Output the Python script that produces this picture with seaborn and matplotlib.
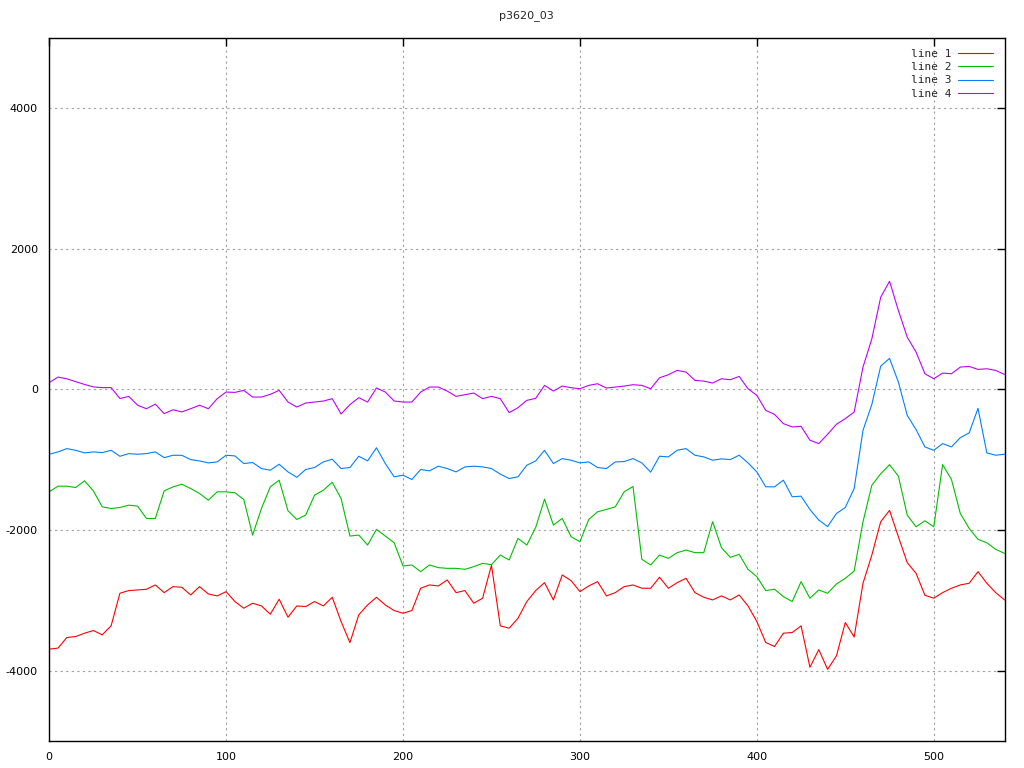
import matplotlib

matplotlib.use("Agg")

import matplotlib.pyplot as plt
import numpy as np
import pandas as pd
import seaborn as sns

# sample positions (every 5 units along x)
x_values = list(range(0, 545, 5))

line_1 = [
    -3693, -3678, -3527, -3513, -3466, -3428, -3489, -3362, -2898, -2860, -2851, -2841, -2780, -2889, -2804, -2813, -2922, -2804, -2908,
    -2936, -2875, -3016, -3111, -3040, -3078, -3196, -2983, -3239, -3078, -3087, -3016, -3078, -2955, -3300, -3600, -3205, -3064,
    -2955, -3064, -3144, -3182, -3144, -2827, -2780, -2794, -2709, -2889, -2860, -3040, -2969, -2500, -3362, -3395, -3253, -3016,
    -2860, -2747, -2993, -2638, -2719, -2875, -2794, -2733, -2936, -2889, -2804, -2780, -2827, -2827, -2671, -2827, -2747, -2686,
    -2889, -2955, -2993, -2936, -2993, -2922, -3078, -3300, -3598, -3655, -3466, -3456, -3362, -3950, -3700, -3980, -3787, -3314,
    -3520, -2756, -2355, -1882, -1720, -2095, -2463, -2615, -2927, -2969, -2889, -2827, -2780, -2756, -2591, -2756, -2889, -2993,
]
line_2 = [
    -1457, -1376, -1376, -1395, -1300, -1443, -1670, -1693, -1679, -1646, -1660, -1835, -1835, -1443, -1386, -1348, -1409, -1480, -1575,
    -1456, -1456, -1470, -1565, -2071, -1693, -1385, -1291, -1726, -1849, -1787, -1504, -1433, -1320, -1551, -2085, -2071, -2213,
    -1990, -2085, -2180, -2511, -2496, -2591, -2496, -2534, -2544, -2544, -2558, -2520, -2473, -2492, -2355, -2425, -2118, -2213,
    -1962, -1560, -1929, -1834, -2095, -2165, -1849, -1740, -1707, -1669, -1456, -1380, -2416, -2496, -2355, -2402, -2321, -2284,
    -2321, -2321, -1880, -2250, -2388, -2345, -2558, -2662, -2860, -2841, -2946, -3016, -2733, -2969, -2851, -2898, -2766, -2686,
    -2582, -1882, -1362, -1200, -1070, -1234, -1787, -1953, -1868, -1953, -1069, -1281, -1764, -1976, -2132, -2180, -2274, -2331,
]
line_3 = [
    -922, -889, -842, -866, -903, -889, -899, -866, -951, -913, -922, -913, -889, -970, -937, -937, -998, -1017, -1045,
    -1031, -936, -946, -1054, -1040, -1125, -1149, -1064, -1173, -1250, -1139, -1111, -1031, -993, -1125, -1111, -950, -1017,
    -830, -1054, -1243, -1220, -1281, -1139, -1158, -1092, -1125, -1173, -1102, -1092, -1102, -1125, -1205, -1267, -1243, -1078,
    -1017, -866, -1054, -984, -1007, -1045, -1031, -1111, -1125, -1031, -1026, -984, -1045, -1177, -950, -960, -865, -842,
    -936, -960, -1007, -988, -998, -936, -1045, -1173, -1385, -1385, -1291, -1527, -1518, -1707, -1858, -1950, -1764, -1679,
    -1409, -582, -213, 330, 440, 104, -369, -572, -818, -866, -771, -818, -686, -619, -270, -903, -936, -922,
]
line_4 = [
    95, 175, 150, 110, 70, 35, 25, 25, -130, -100, -225, -275, -210, -345, -290, -320, -275, -225, -275,
    -132, -38, -43, -14, -109, -109, -71, -14, -180, -251, -194, -180, -166, -132, -350, -217, -118, -180,
    20, -38, -165, -180, -180, -38, 33, 33, -24, -99, -76, -52, -132, -99, -132, -330, -260, -156,
    -128, 57, -24, 47, 24, 9, 57, 80, 19, 33, 47, 66, 57, 9, 165, 208, 270, 246,
    128, 118, 90, 151, 137, 184, 9, -85, -298, -355, -487, -534, -525, -723, -771, -638, -496, -416,
    -322, 317, 719, 1310, 1537, 1121, 742, 530, 222, 151, 232, 222, 317, 326, 284, 293, 270, 213,
]

series_names = ["line 1", "line 2", "line 3", "line 4"]
series_colors = ["#ff0000", "#00c000", "#0080ff", "#c000ff"]

x_ticks = [0, 100, 200, 300, 400, 500]
y_ticks = [-4000, -2000, 0, 2000, 4000]


def build_frame() -> pd.DataFrame:
    parts = []
    for name, values in zip(series_names, [line_1, line_2, line_3, line_4]):
        parts.append(pd.DataFrame({"x": x_values, "y": values, "series": name}))
    return pd.concat(parts, ignore_index=True)


def main() -> None:
    sns.set_style("white")
    plt.rcParams["font.family"] = ["DejaVu Sans"]
    plt.rcParams["axes.unicode_minus"] = False

    df = build_frame()

    fig, ax = plt.subplots(figsize=(10.24, 7.68), dpi=100)
    fig.subplots_adjust(left=0.048, right=0.981, top=0.951, bottom=0.035)

    sns.lineplot(
        data=df,
        x="x",
        y="y",
        hue="series",
        palette=dict(zip(series_names, series_colors)),
        estimator=None,
        sort=False,
        linewidth=0.8,
        ax=ax,
    )

    ax.set_xlim(0, 540)
    ax.set_ylim(-5000, 5000)
    ax.set_xticks(x_ticks)
    ax.set_yticks(y_ticks)
    ax.set_xlabel("")
    ax.set_ylabel("")
    ax.set_title("p3620_03", fontsize=8, pad=14)

    ax.grid(True, color="#a0a0a0", linestyle=(0, (2, 3)), linewidth=0.8)
    ax.set_axisbelow(True)
    ax.tick_params(direction="in", length=6, width=1, top=True, right=True,
                   labelsize=8, pad=8, colors="black")
    for spine in ax.spines.values():
        spine.set_color("black")
        spine.set_linewidth(1.0)

    legend = ax.legend(
        loc="upper right",
        frameon=False,
        markerfirst=False,
        fontsize=8,
        handlelength=3.2,
        handletextpad=0.6,
        labelspacing=0.3,
        borderaxespad=0.6,
    )
    for text in legend.get_texts():
        text.set_fontfamily("DejaVu Sans Mono")

    fig.savefig("out.png", dpi=100)
    plt.close(fig)


if __name__ == "__main__":
    main()
